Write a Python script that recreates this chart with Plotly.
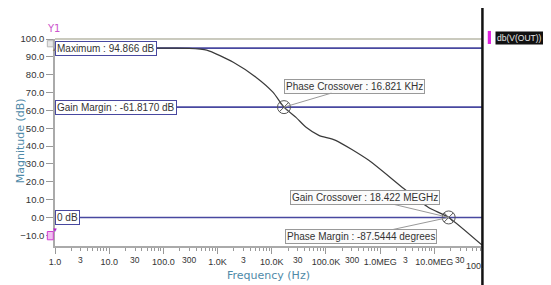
import math
import plotly.graph_objects as go

# ---- data ----
freq_hz = [1, 100, 300, 631, 1950, 5100, 10500, 16821, 28000, 43000, 74000,
           151000, 617000, 2.57e6, 7.8e6, 18.422e6, 75.9e6]
mag_db = [94.866, 94.866, 94.8, 93.8, 87.0, 78.6, 70.2, 61.817, 56.1, 50.5, 46.0,
          43.2, 32.0, 16.8, 5.6, 0.0, -15.5]

max_db = 94.866
gain_margin_line_db = 61.817
zero_db = 0.0
phase_cross_f = 16821
phase_cross_db = 61.817
gain_cross_f = 18.422e6
gain_cross_db = 0.0

major_ticks = [1, 10, 100, 1e3, 1e4, 1e5, 1e6, 1e7]
major_labels = ["1.0", "10.0", "100.0", "1.0K", "10.0K", "100.0K", "1.0MEG", "10.0MEG"]
minor_label_vals = [3, 30, 300, 3e3, 3e4, 3e5, 3e6, 3e7]
minor_label_text = ["3", "30", "300", "3", "30", "300", "3", "30"]
y_ticks = [-10, 0, 10, 20, 30, 40, 50, 60, 70, 80, 90, 100]

FONT = "Liberation Sans, Arial, sans-serif"
LINEC = "#4848a0"
GRAYC = "#999999"
TXT = "#333333"
AXC = "#4f8aa8"

minor_vals = [m * 10 ** k for k in range(8) for m in range(2, 10)]

fig = go.Figure()
fig.add_trace(go.Scatter(x=freq_hz, y=mag_db, mode="lines",
                         line=dict(color="#3a3a3a", width=1.2, shape="spline", smoothing=0.6),
                         showlegend=False, hoverinfo="skip"))
fig.add_trace(go.Scatter(x=[phase_cross_f, gain_cross_f], y=[phase_cross_db, gain_cross_db],
                         mode="markers",
                         marker=dict(symbol="circle-x-open", size=13, color="#555555",
                                     line=dict(width=1)),
                         showlegend=False, hoverinfo="skip"))

shapes = []
for yv in [max_db, gain_margin_line_db, zero_db]:
    shapes.append(dict(type="line", xref="paper", x0=0, x1=1, yref="y", y0=yv, y1=yv,
                       line=dict(color=LINEC, width=1.6), layer="below"))
# top border
shapes.append(dict(type="line", xref="paper", x0=0, x1=1, yref="paper", y0=1, y1=1,
                   line=dict(color="#b8b8a8", width=1.5)))
# right black divider
shapes.append(dict(type="line", xref="paper", x0=1.001, x1=1.001, yref="paper", y0=-0.2, y1=1.16,
                   line=dict(color="#111111", width=2.5)))
# legend magenta marker
shapes.append(dict(type="rect", xref="paper", yref="paper", x0=1.0135, x1=1.021, y0=0.976, y1=1.039,
                   fillcolor="#e020e0", line=dict(width=0)))
# small scroll icons left of the axis
shapes.append(dict(type="rect", xref="paper", yref="paper", x0=-0.018, x1=-0.004, y0=0.962, y1=0.992,
                   fillcolor="#e8e8e8", line=dict(color="#aaaaaa", width=0.8)))
shapes.append(dict(type="rect", xref="paper", yref="paper", x0=-0.018, x1=-0.004, y0=0.03, y1=0.07,
                   fillcolor="#f0c0f0", line=dict(color="#d040d0", width=1)))

ann = []
def box(text, x, y, border):
    ann.append(dict(text=text, x=x, y=y, xref="paper", yref="y", xanchor="left", yanchor="middle",
                    showarrow=False, bgcolor="white", bordercolor=border, borderwidth=1, borderpad=1,
                    font=dict(family=FONT, size=10, color=TXT)))

box("Maximum : 94.866 dB", 0, max_db, LINEC)
box("Gain Margin : -61.8170 dB", 0, gain_margin_line_db, LINEC)
box("0 dB", 0, zero_db, LINEC)

def callout(text, xv, yv, ax, ay):
    ann.append(dict(text=text, x=xv, y=yv, xref="x", yref="y", ax=ax, ay=ay,
                    showarrow=True, arrowhead=0, arrowwidth=1, arrowcolor=GRAYC,
                    bgcolor="#fbfbfb", bordercolor=GRAYC, borderwidth=1, borderpad=1,
                    font=dict(family=FONT, size=10, color=TXT)))

callout("Phase Crossover : 16.821 KHz", math.log10(phase_cross_f), phase_cross_db, 71, -21)
callout("Gain Crossover : 18.422 MEGHz", math.log10(gain_cross_f), gain_cross_db, -84, -20)
callout("Phase Margin : -87.5444 degrees", math.log10(gain_cross_f), gain_cross_db, -88, 19)

# minor x labels
for v, t in zip(minor_label_vals, minor_label_text):
    ann.append(dict(text=t, x=math.log10(v), y=-0.035, xref="x", yref="paper",
                    yanchor="top", showarrow=False,
                    font=dict(family=FONT, size=8.5, color=TXT)))
ann.append(dict(text="100.", x=0.957, y=-0.065, xref="paper", yref="paper", xanchor="left",
                yanchor="top", showarrow=False, font=dict(family=FONT, size=9, color=TXT)))

ann.append(dict(text="Magnitude (dB)", x=-0.1, y=0.51, xref="paper", yref="paper",
                textangle=-90, showarrow=False, font=dict(family="DejaVu Sans", size=11, color=AXC)))
ann.append(dict(text="Frequency (Hz)", x=0.5, y=-0.1, xref="paper", yref="paper",
                yanchor="top", showarrow=False, font=dict(family="DejaVu Sans", size=11, color=AXC)))
ann.append(dict(text="Y1", x=-0.023, y=1.085, xref="paper", yref="paper", showarrow=False,
                font=dict(family="DejaVu Sans", size=10, color="#cc55cc")))
ann.append(dict(text="db(V(OUT))", x=1.03, y=1.007, xref="paper", yref="paper", xanchor="left",
                yanchor="middle", showarrow=False, bgcolor="#111111", borderpad=1,
                font=dict(family=FONT, size=8.5, color="#e8e8e8")))
ann.append(dict(text="▲", x=-0.011, y=0.977, xref="paper", yref="paper", showarrow=False,
                font=dict(size=5, color="#777777")))
ann.append(dict(text="▼", x=-0.011, y=0.05, xref="paper", yref="paper", showarrow=False,
                font=dict(size=6, color="#c020c0")))

# page body has an 8px margin, so the figure is sized/offset to compensate
fig.update_layout(
    width=543, height=277, margin=dict(l=45, r=69, t=31, b=39),
    paper_bgcolor="white", plot_bgcolor="white",
    shapes=shapes, annotations=ann, showlegend=False,
    xaxis=dict(type="log", range=[0, 7.88], tickvals=major_ticks, ticktext=major_labels,
               ticks="outside", ticklen=6, tickcolor=GRAYC, showline=True, linecolor="#aaaaaa",
               linewidth=1.5, showgrid=False, zeroline=False,
               tickfont=dict(family=FONT, size=9, color=TXT),
               minor=dict(tickvals=minor_vals, ticks="outside", ticklen=3, tickcolor=GRAYC,
                          showgrid=False)),
    yaxis=dict(range=[-16, 100], tickvals=y_ticks, tickformat=".1f", ticks="outside",
               ticklen=7, tickcolor=GRAYC, showline=True, linecolor="#aaaaaa", linewidth=1.5,
               showgrid=False, zeroline=False,
               tickfont=dict(family=FONT, size=9.5, color=TXT)),
)

fig.write_html("out.html")
